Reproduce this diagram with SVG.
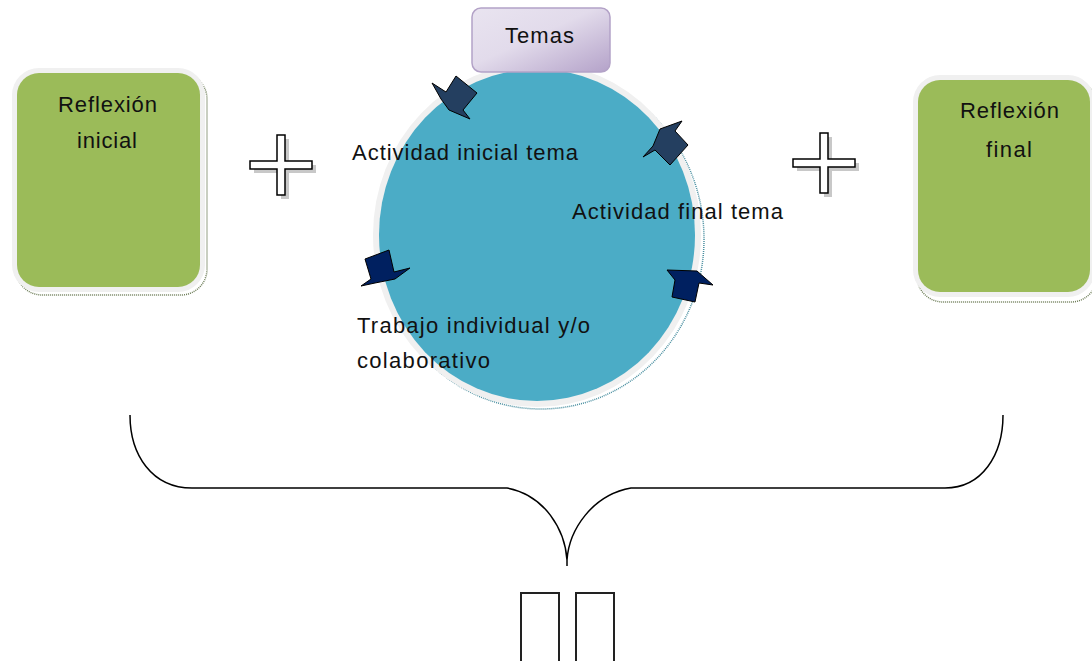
<svg xmlns="http://www.w3.org/2000/svg" width="1092" height="661" viewBox="0 0 1092 661">
<defs>
<linearGradient id="gTemas" x1="0" y1="0" x2="1" y2="1">
<stop offset="0" stop-color="#e9e4f0"/>
<stop offset="0.45" stop-color="#e2dbeb"/>
<stop offset="1" stop-color="#b4a2c9"/>
</linearGradient>
<style>
.lbl{font-family:"Liberation Sans",Arial,sans-serif;font-size:22px;fill:#111;}
.green{fill:#9bbb59;}
.halo{fill:#f0f0f0;}
.shadow{fill:none;stroke:#6f7f5a;stroke-width:1.5;stroke-dasharray:1 1;}
.pinA{fill:#243f60;stroke:#000;stroke-width:1;}
.pinB{fill:#002060;stroke:#000;stroke-width:1;}
.plus{fill:#fff;stroke:#000;stroke-width:1.5;}
.plusSh{fill:#c8c8c8;}
.brace{fill:none;stroke:#000;stroke-width:1.5;}
.tofu{fill:none;stroke:#222;stroke-width:2;}
</style>
</defs>
<rect width="1092" height="661" fill="#fff"/>

<g id="reflexion-inicial">
<rect class="shadow" x="16" y="73" width="191" height="222" rx="26"/>
<rect class="halo" x="12" y="68" width="193" height="224" rx="27"/>
<rect class="green" x="17" y="73" width="183" height="214" rx="22"/>
<text class="lbl" x="58" y="112" textLength="99" lengthAdjust="spacing">Reflexión</text>
<text class="lbl" x="77" y="148" textLength="60" lengthAdjust="spacing">inicial</text>
</g>

<g id="reflexion-final">
<rect class="shadow" x="917" y="80" width="180" height="222" rx="26"/>
<rect class="halo" x="913" y="75" width="182" height="222" rx="27"/>
<rect class="green" x="918" y="80" width="172" height="212" rx="22"/>
<text class="lbl" x="960" y="118" textLength="99" lengthAdjust="spacing">Reflexión</text>
<text class="lbl" x="986" y="157" textLength="46" lengthAdjust="spacing">final</text>
</g>

<g id="plus-left">
<path class="plusSh" d="M281,139 h8 v26 h27 v8 h-27 v26 h-8 v-26 h-27 v-8 h27 z"/>
<path class="plus" d="M277,135 h8 v26 h27 v8 h-27 v26 h-8 v-26 h-27 v-8 h27 z"/>
</g>

<g id="plus-right">
<path class="plusSh" d="M824,137 h8 v26 h27 v8 h-27 v26 h-8 v-26 h-27 v-8 h27 z"/>
<path class="plus" d="M820,133 h8 v26 h27 v8 h-27 v26 h-8 v-26 h-27 v-8 h27 z"/>
</g>

<g id="ciclo">
<ellipse cx="541" cy="239" rx="163" ry="170" fill="none" stroke="#4a8fa0" stroke-width="1.5" stroke-dasharray="1 1"/>
<ellipse class="halo" cx="537" cy="235" rx="164" ry="172"/>
<ellipse cx="537" cy="235" rx="158" ry="166" fill="#4bacc6"/>
<text class="lbl" x="352" y="160" textLength="226" lengthAdjust="spacing">Actividad inicial tema</text>
<text class="lbl" x="572" y="219" textLength="211" lengthAdjust="spacing">Actividad final tema</text>
<text class="lbl" x="357" y="333" textLength="233" lengthAdjust="spacing">Trabajo  individual y/o</text>
<text class="lbl" x="357" y="368" textLength="133" lengthAdjust="spacing">colaborativo</text>
</g>

<g id="temas">
<rect x="472" y="8" width="138" height="64" rx="9" fill="url(#gTemas)" stroke="#b3a2c7" stroke-width="1.5"/>
<text class="lbl" x="505" y="43" textLength="69" lengthAdjust="spacing">Temas</text>
</g>

<g id="pin1">
<polygon class="pinA" points="432,83 446,92 456,76 477,93 463,110 470,119 449,110 441,99"/>
</g>
<g id="pin2">
<polygon class="pinA" points="643,157 653,146 660,129 682,121 675,131 688,145 670,165 655,150"/>
</g>
<g id="pin3">
<polygon class="pinB" points="365,259 389,250 394,272 410,268 395,279 375,283 361,286 371,279"/>
</g>
<g id="pin4">
<polygon class="pinB" points="667,270 697,271 713,285 699,283 695,302 672,297 675,280"/>
</g>

<g id="connectors">
<path class="brace" d="M130,415 C130,455 152,488 192,488 L507,488 C545,495 565,530 567,560 L567,566 M567,560 C569,530 592,495 631,488 L945,488 C982,488 1003,455 1003,415"/>
</g>

<g id="simbolos">
<rect class="tofu" x="521" y="593" width="38" height="70"/>
<rect class="tofu" x="576" y="593" width="38" height="70"/>
</g>
</svg>
